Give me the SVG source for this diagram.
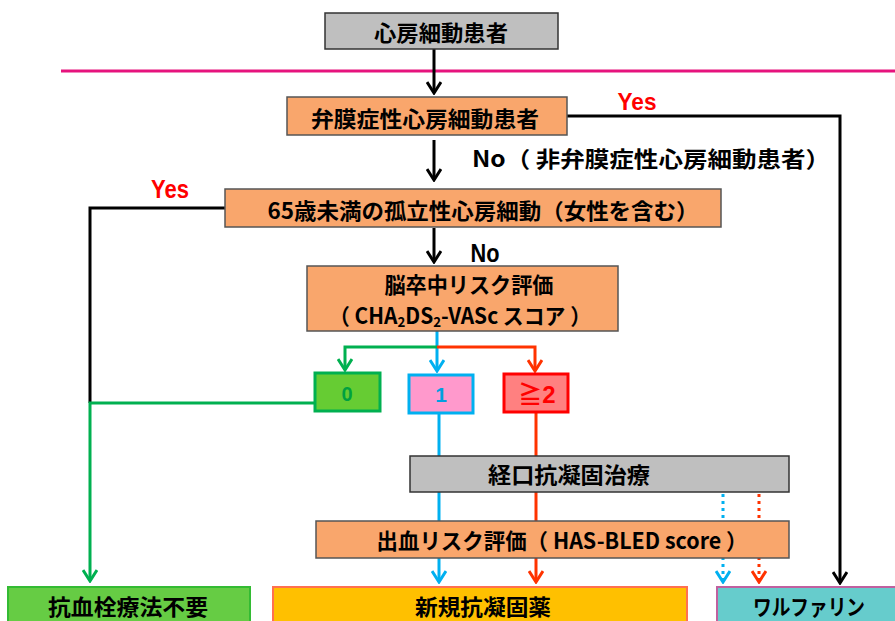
<svg xmlns="http://www.w3.org/2000/svg" width="895" height="621" viewBox="0 0 895 621">
<style>
.jp{font-family:'Noto Sans CJK JP','Liberation Sans',sans-serif;font-weight:bold;font-size:22px;fill:#000;text-anchor:middle}
.lat{font-family:'Liberation Sans','Noto Sans CJK JP',sans-serif;font-weight:bold;text-anchor:middle}
.ln{fill:none;stroke-width:3}
.k{stroke:#000}
.g{stroke:#00B050}
.b{stroke:#00B0F0}
.r{stroke:#FF3300}
.dot{stroke-dasharray:3 4}
.org{fill:#F9A66C;stroke:#555;stroke-width:1.5}
.gry{fill:#BFBFBF;stroke:#333;stroke-width:1.5}
.sub{font-size:14px;baseline-shift:-3px}
</style>
<defs>
<marker id="ak" viewBox="0 0 16 16" refX="14" refY="8" markerWidth="16" markerHeight="16" markerUnits="userSpaceOnUse" orient="auto"><path d="M3,1 L14,8 L3,15" fill="none" stroke="#000" stroke-width="3"/></marker>
<marker id="ag" viewBox="0 0 16 16" refX="14" refY="8" markerWidth="16" markerHeight="16" markerUnits="userSpaceOnUse" orient="auto"><path d="M3,1 L14,8 L3,15" fill="none" stroke="#00B050" stroke-width="3"/></marker>
<marker id="ab" viewBox="0 0 16 16" refX="14" refY="8" markerWidth="16" markerHeight="16" markerUnits="userSpaceOnUse" orient="auto"><path d="M3,1 L14,8 L3,15" fill="none" stroke="#00B0F0" stroke-width="3"/></marker>
<marker id="ar" viewBox="0 0 16 16" refX="14" refY="8" markerWidth="16" markerHeight="16" markerUnits="userSpaceOnUse" orient="auto"><path d="M3,1 L14,8 L3,15" fill="none" stroke="#FF3300" stroke-width="3"/></marker>
</defs>
<rect width="895" height="621" fill="#fff"/>
<line x1="61" y1="71" x2="895" y2="71" stroke="#E6137D" stroke-width="3"/>

<g id="connectors">
<path class="ln k" d="M434,49 V93" marker-end="url(#ak)"/>
<path class="ln k" d="M567,116 H840 V583" marker-end="url(#ak)"/>
<path class="ln k" d="M434,140 V180" marker-end="url(#ak)"/>
<path class="ln k" d="M225,208 H90 V403"/>
<path class="ln g" d="M316,403 H90 V581" marker-end="url(#ag)"/>
<path class="ln k" d="M434,228 V262" marker-end="url(#ak)"/>
<path class="ln b" d="M437,331 V371" marker-end="url(#ab)"/>
<path class="ln g" d="M437,347 H345 V370" marker-end="url(#ag)"/>
<path class="ln r" d="M437,347 H535 V371" marker-end="url(#ar)"/>
<path class="ln b" d="M439,414 V582" marker-end="url(#ab)"/>
<path class="ln r" d="M536,413 V582" marker-end="url(#ar)"/>
<path class="ln b dot" d="M723,494 V582" marker-end="url(#ab)"/>
<path class="ln r dot" d="M759,494 V582" marker-end="url(#ar)"/>
<text class="lat" x="637" y="110" font-size="24" fill="#FF0000" textLength="39" lengthAdjust="spacingAndGlyphs">Yes</text>
<text class="lat" x="170" y="198" font-size="26" fill="#FF0000" textLength="38" lengthAdjust="spacingAndGlyphs">Yes</text>
<text class="jp" x="651" y="167" textLength="358" lengthAdjust="spacingAndGlyphs">No（ 非弁膜症性心房細動患者）</text>
<text class="lat" x="485" y="262" font-size="26" fill="#000" textLength="29" lengthAdjust="spacingAndGlyphs">No</text>
</g>

<g id="n_af">
<rect x="325" y="13" width="233" height="36" class="gry"/>
<text class="jp" x="441" y="41" textLength="134" lengthAdjust="spacingAndGlyphs">心房細動患者</text>
</g>
<g id="n_valvular">
<rect x="287" y="97" width="280" height="38" class="org"/>
<text class="jp" x="425" y="127" textLength="228" lengthAdjust="spacingAndGlyphs">弁膜症性心房細動患者</text>
</g>
<g id="n_lone">
<rect x="225" y="189" width="496" height="38" class="org"/>
<text class="jp" x="483" y="219" textLength="431" lengthAdjust="spacingAndGlyphs">65歳未満の孤立性心房細動（女性を含む）</text>
</g>
<g id="n_stroke">
<rect x="307" y="266" width="311" height="65" class="org"/>
<text class="jp" x="469" y="293" font-size="19" textLength="169" lengthAdjust="spacingAndGlyphs">脳卒中リスク評価</text>
<text class="jp" x="460" y="324" font-size="21" textLength="262" lengthAdjust="spacingAndGlyphs">（ CHA<tspan class="sub">2</tspan>DS<tspan class="sub">2</tspan>-VASc スコア ）</text>
</g>
<g id="n_0">
<rect x="315" y="373" width="65" height="38" fill="#66CC33" stroke="#00B050" stroke-width="3"/>
<text class="lat" x="347" y="401" font-size="20" fill="#00A040">0</text>
</g>
<g id="n_1">
<rect x="409" y="375" width="64" height="38" fill="#FF99CC" stroke="#00B0F0" stroke-width="3"/>
<text class="lat" x="441" y="402" font-size="21" fill="#00A0E0">1</text>
</g>
<g id="n_2">
<rect x="504" y="374" width="64" height="38" fill="#FF8080" stroke="#FF0000" stroke-width="3"/>
<text class="lat" x="537" y="403" font-size="24" fill="#FF0000">≧2</text>
</g>
<g id="n_oac">
<rect x="410" y="456" width="379" height="36" class="gry"/>
<text class="jp" x="569" y="483" textLength="162" lengthAdjust="spacingAndGlyphs">経口抗凝固治療</text>
</g>
<g id="n_bleed">
<rect x="316" y="521" width="473" height="37" class="org"/>
<text class="jp" x="562" y="549" textLength="371" lengthAdjust="spacingAndGlyphs">出血リスク評価（ HAS-BLED score ）</text>
</g>
<g id="n_none">
<rect x="8" y="587" width="242" height="40" fill="#66CC44" stroke="#33BB33" stroke-width="2"/>
<text class="jp" x="128" y="615" font-size="21" textLength="160" lengthAdjust="spacingAndGlyphs">抗血栓療法不要</text>
</g>
<g id="n_noac">
<rect x="273" y="587" width="414" height="40" fill="#FFC000" stroke="#FF7050" stroke-width="2"/>
<text class="jp" x="483" y="615" font-size="21" textLength="136" lengthAdjust="spacingAndGlyphs">新規抗凝固薬</text>
</g>
<g id="n_warf">
<rect x="717" y="587" width="185" height="40" fill="#66CCCC" stroke="#C0609F" stroke-width="2"/>
<text class="jp" x="809" y="615" font-size="21" textLength="112" lengthAdjust="spacingAndGlyphs">ワルファリン</text>
</g>
</svg>
